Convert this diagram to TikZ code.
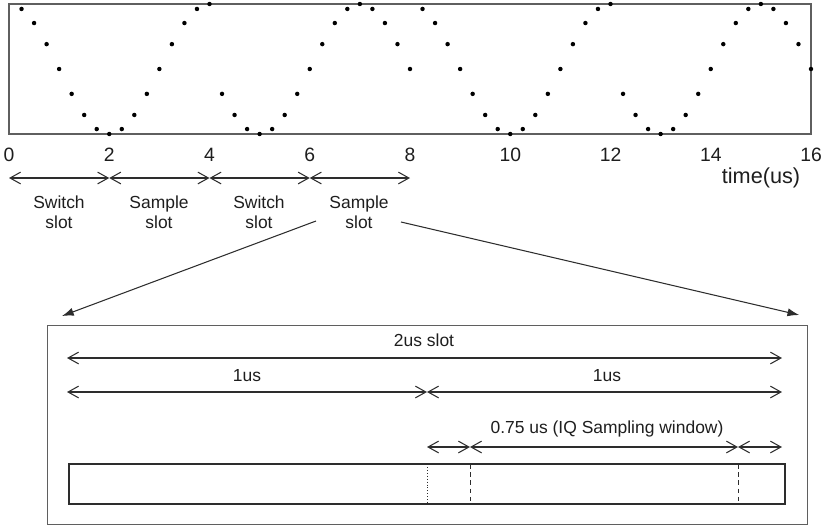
\documentclass[tikz,border=0pt]{standalone}
\usepackage{fontspec}
\setmainfont{Liberation Sans}
\usepackage{xcolor}
\usetikzlibrary{arrows.meta,positioning,calc}
\definecolor{framegray}{RGB}{95, 95, 95}
\definecolor{darkline}{RGB}{45, 45, 45}
\definecolor{textgray}{RGB}{30, 30, 30}

\begin{document}
\begin{tikzpicture}[x=0.03cm, y=-0.03cm,
    every node/.style={font=\fontsize{14.9}{17}\selectfont, text=textgray, inner sep=0pt},
    dimarrow/.style={{Straight Barb[length=9pt,width=10pt]}-{Straight Barb[length=9pt,width=10pt]}, darkline, line width=0.9pt},
    zoomarrow/.style={-{Latex[length=10pt,width=7pt]}, darkline, line width=0.9pt},
    ticklabel/.style={font=\fontsize{16.5}{18}\selectfont}]
    \useasboundingbox (0,0) rectangle (827,529);

    % Sampled signal: x = 9 + 50.125 t
    \draw[framegray, line width=1pt] (9,4) rectangle (811,134);
    \foreach \k in {1,...,64} {
        \pgfmathsetmacro\tm{\k/4}
        \pgfmathsetmacro\ph{mod(floor((\k-1)/16),2)*90}
        \fill[black] ({9+50.125*\tm},{69-65*cos(90*\tm+\ph)}) circle[radius=1.9pt];
    }
    \foreach \t in {0,2,...,16}
        \node[ticklabel] (tk\t) at ({9+50.125*\t},155) {\t};
    \node[font=\fontsize{18.5}{20}\selectfont] (taxis) at (761,178) {time(us)};

    % Slots
    \foreach \i in {0,...,4}
        \coordinate (s\i) at ({9+100.25*\i},178);
    \draw[dimarrow] (s0) -- (s1);
    \draw[dimarrow] (s1) -- (s2);
    \draw[dimarrow] (s2) -- (s3);
    \draw[dimarrow] (s3) -- (s4);
    \node[align=center] (sw1) at (59,212) {Switch\\slot};
    \node[align=center] (sa1) at (159,212) {Sample\\slot};
    \node[align=center] (sw2) at (259,212) {Switch\\slot};
    \node[align=center] (sa2) at (359,212) {Sample\\slot};

    % Zoomed sample slot
    \node[draw=framegray, line width=1pt, anchor=north west, minimum width=22.8cm, minimum height=5.97cm] (zoom) at (47,325) {};
    \coordinate (zl) at ($(sa2)+(-43,9)$);
    \coordinate (zr) at ($(sa2)+(42,10)$);
    \coordinate (tl) at ($(zoom.north west)+(15,-9)$);
    \coordinate (tr) at ($(zoom.north east)+(-9,-10)$);
    \draw[zoomarrow] (zl) -- (tl);
    \draw[zoomarrow] (zr) -- (tr);

    % Dimension lines
    \coordinate (a0) at (67,358);  \coordinate (a1) at (782,358);
    \coordinate (b0) at (67,392);  \coordinate (b1) at (427,392);  \coordinate (b2) at (782,392);
    \coordinate (c0) at (427,447); \coordinate (c1) at (470,447);  \coordinate (c2) at (738,447); \coordinate (c3) at (782,447);
    \draw[dimarrow] (a0) -- (a1);
    \draw[dimarrow] (b0) -- (b1);
    \draw[dimarrow] (b1) -- (b2);
    \draw[dimarrow] (c0) -- (c1);
    \draw[dimarrow] (c1) -- (c2);
    \draw[dimarrow] (c2) -- (c3);
    \node (l2us) at (424,340) {2us slot};
    \node (l1a) at (247,376) {1us};
    \node (l1b) at (607,376) {1us};
    \node (liq) at (607,429) {0.75 us (IQ Sampling window)};

    % Slot bar
    \draw[darkline, line width=1pt] (69,464) rectangle (785,504);
    \draw[darkline, dotted, line width=0.5pt] (427,464) -- (427,504);
    \draw[darkline, dash pattern=on 4pt off 3pt, line width=0.8pt] (470,464) -- (470,504);
    \draw[darkline, dash pattern=on 4pt off 3pt, line width=0.8pt] (738,464) -- (738,504);
\end{tikzpicture}
\end{document}
